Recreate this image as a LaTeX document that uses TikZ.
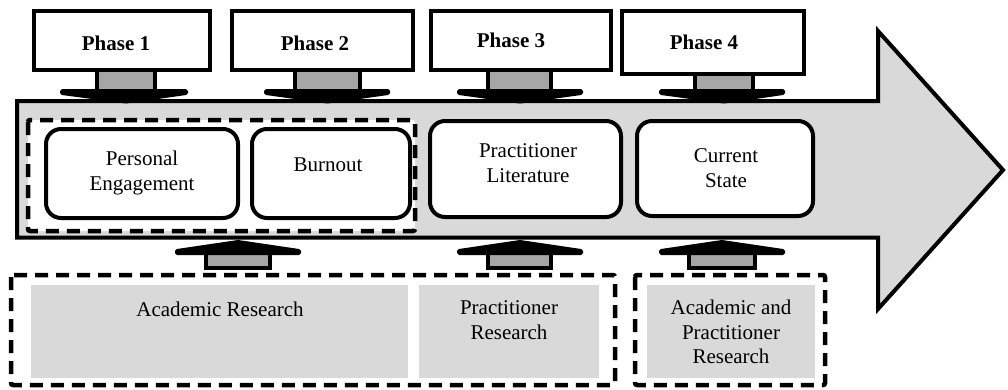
\documentclass[tikz,border=0pt]{standalone}
\usepackage{fontspec}
\setmainfont{Liberation Serif}
\definecolor{bodygrey}{HTML}{D9D9D9}
\definecolor{stemgrey}{HTML}{A6A6A6}
\begin{document}
\begin{tikzpicture}[x=1pt,y=-1pt,
  bigarrow/.style={fill=bodygrey, draw=black, line width=4pt, line join=miter},
  phasebox/.style={draw=black, fill=white, line width=4.5pt},
  stagebox/.style={draw=black, fill=white, line width=4pt, rounded corners=15pt},
  groupbox/.style={draw=black, line width=4.5pt, dash pattern=on 13pt off 8pt, rounded corners=2pt},
  srcbox/.style={fill=bodygrey},
  stemstyle/.style={fill=stemgrey, draw=black, line width=4pt},
  headstyle/.style={fill=black, draw=black, line width=4pt, line join=bevel},
  lbl/.style={font=\fontsize{21}{24.5}\selectfont, align=center, inner sep=0pt},
  phaselbl/.style={font=\fontsize{21}{24.5}\selectfont\bfseries, inner sep=0pt, anchor=base}]
\useasboundingbox (0,0) rectangle (1008,389);

% big process arrow
\draw[bigarrow] (17,101) -- (878,101) -- (878,31) -- (1003,170) -- (878,309) -- (878,237.5) -- (17,237.5) -- cycle;

% group of phases 1 and 2
\draw[groupbox, fill=white] (28,120) rectangle (415,231);

% stage boxes
\draw[stagebox] (46,129) rectangle (238,218);
\draw[stagebox] (252,129) rectangle (410,218);
\draw[stagebox] (430,121) rectangle (621,217);
\draw[stagebox] (637,121) rectangle (813,216);

% downward arrows from phases
\draw[stemstyle] (97,70) rectangle (155,91);
\draw[headstyle] (62,91) -- (186,91) -- (186,93) -- (126,101.5) -- (62,93) -- cycle;
\draw[stemstyle] (295,70) rectangle (360,91);
\draw[headstyle] (266,91) -- (388,91) -- (388,93) -- (327.5,101.5) -- (266,93) -- cycle;
\draw[stemstyle] (488,70) rectangle (551,91);
\draw[headstyle] (459,91) -- (581,91) -- (581,93) -- (520,101.5) -- (459,93) -- cycle;
\draw[stemstyle] (695,74) rectangle (753,91);
\draw[headstyle] (661,91) -- (783,91) -- (783,93) -- (724,101.5) -- (661,93) -- cycle;

% phase boxes
\draw[phasebox] (34,11) rectangle (210,70);
\draw[phasebox] (232,11) rectangle (413,70);
\draw[phasebox] (431,11) rectangle (611,70);
\draw[phasebox] (622,11) rectangle (804,74);

% upward arrows from research
\draw[stemstyle] (206,268) rectangle (270,253);
\draw[headstyle] (177,253) -- (299,253) -- (299,251) -- (238,242) -- (177,251) -- cycle;
\draw[stemstyle] (488,268) rectangle (551,253);
\draw[headstyle] (459,253) -- (581,253) -- (581,251) -- (520,242) -- (459,251) -- cycle;
\draw[stemstyle] (689,268) rectangle (755,253);
\draw[headstyle] (661,253) -- (783,253) -- (783,251) -- (722,242) -- (661,251) -- cycle;

% research groups
\draw[groupbox] (11,275) rectangle (615,385);
\draw[groupbox] (635,275) rectangle (825,385);
\fill[srcbox] (31,285) rectangle (408,378);
\fill[srcbox] (419,285) rectangle (599,378);
\fill[srcbox] (647,285) rectangle (815,378);

% labels
\node[phaselbl] (t1) at (116,50) {Phase 1};
\node[phaselbl] (t2) at (315,50) {Phase 2};
\node[phaselbl] (t3) at (511,47) {Phase 3};
\node[phaselbl] (t4) at (704,49) {Phase 4};
\node[lbl] (pe) at (142,173) {Personal\\Engagement};
\node[lbl] (bo) at (328,165) {Burnout};
\node[lbl] (pl) at (528,163) {Practitioner\\Literature};
\node[lbl] (cs) at (726,168) {Current\\State};
\node[lbl] (ar) at (220,309) {Academic Research};
\node[lbl] (pr) at (509,320) {Practitioner\\Research};
\node[lbl] (apr) at (731,332) {Academic and\\Practitioner\\Research};
\end{tikzpicture}
\end{document}
